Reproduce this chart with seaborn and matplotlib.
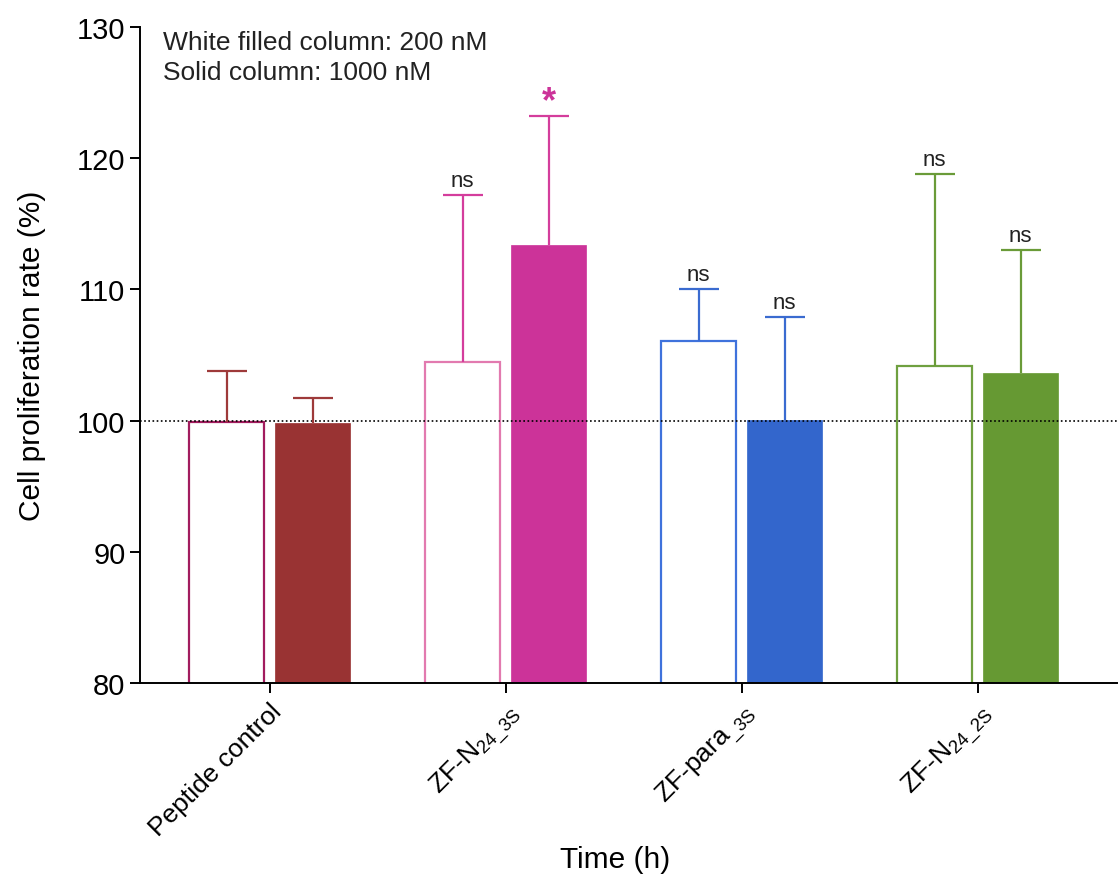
import numpy as np
import pandas as pd
import seaborn as sns
from matplotlib import pyplot as plt

# data
groups = ["Peptide control", "ZF-N24_3S", "ZF-para_3S", "ZF-N24_2S"]
group_labels = ["Peptide control", r"ZF-N$_\mathregular{24\_3S}$",
                r"ZF-para$_\mathregular{\_3S}$", r"ZF-N$_\mathregular{24\_2S}$"]
doses = ["200 nM", "1000 nM"]
mean_200 = [99.9, 104.5, 106.1, 104.2]
mean_1000 = [99.8, 113.4, 100.05, 103.6]
err_200 = [3.9, 12.7, 3.9, 14.6]
err_1000 = [1.9, 9.8, 7.85, 9.4]
sig_200 = ["", "ns", "ns", "ns"]
sig_1000 = ["", "*", "ns", "ns"]

edge_white = ["#a21c5e", "#e27aaf", "#3f72dc", "#6fa040"]
solid_col = ["#993333", "#cc3399", "#3366cc", "#669933"]
err_col = ["#9e3a3a", "#d43d9c", "#3a6bd0", "#6a9b38"]

df = pd.DataFrame({
    "group": groups * 2,
    "dose": [doses[0]] * 4 + [doses[1]] * 4,
    "value": mean_200 + mean_1000,
})

sns.set_style("ticks")
plt.rcParams["font.family"] = ["Liberation Sans", "DejaVu Sans"]
plt.rcParams["mathtext.fontset"] = "custom"
plt.rcParams["mathtext.rm"] = "Liberation Sans"
plt.rcParams["text.color"] = "black"
plt.rcParams["axes.labelcolor"] = "black"
plt.rcParams["xtick.color"] = "black"
plt.rcParams["ytick.color"] = "black"

fig = plt.figure(figsize=(11.19, 8.79), dpi=100)
ax = fig.add_axes([0.1251, 0.2218, 0.8729, 0.7463])

sns.barplot(data=df, x="group", y="value", hue="dose", order=groups,
            hue_order=doses, width=0.73, gap=0.13, errorbar=None,
            legend=False, ax=ax)

bars = sorted(ax.patches, key=lambda p: p.get_x())
for i, p in enumerate(bars):
    g = i // 2
    if i % 2 == 0:
        p.set_facecolor("white")
        p.set_edgecolor(edge_white[g])
        p.set_linewidth(1.6)
    else:
        p.set_facecolor(solid_col[g])
        p.set_edgecolor(solid_col[g])
        p.set_linewidth(0.5)

means = [m for pair in zip(mean_200, mean_1000) for m in pair]
errs = [e for pair in zip(err_200, err_1000) for e in pair]
sigs = [s for pair in zip(sig_200, sig_1000) for s in pair]

for i, p in enumerate(bars):
    g = i // 2
    xc = p.get_x() + p.get_width() / 2
    _, caps, _ = ax.errorbar([xc], [means[i]], yerr=[[0], [errs[i]]],
                             fmt="none", ecolor=err_col[g], elinewidth=1.6,
                             capsize=14.5, capthick=1.6, zorder=3)
    caps[0].set_visible(False)
    top = means[i] + errs[i]
    if sigs[i] == "ns":
        ax.annotate("ns", (xc, top), xytext=(0, 3), textcoords="offset points",
                    ha="center", va="bottom", fontsize=16, color="#222222")
    elif sigs[i] == "*":
        ax.annotate("*", (xc, top), xytext=(0, -2), textcoords="offset points",
                    ha="center", va="bottom", fontsize=26, fontweight="bold",
                    color=solid_col[g])

ax.axhline(100, color="black", linestyle=(0, (1, 1.5)), linewidth=1.2, zorder=1)

ax.set_ylim(80, 130)
ax.set_yticks([80, 90, 100, 110, 120, 130])
ax.set_xlim(-0.55, 3.59)
ax.set_xticks(range(4))
ax.set_xticklabels(group_labels, rotation=45, ha="right",
                   rotation_mode="anchor", fontsize=19)
ax.tick_params(axis="y", labelsize=21, length=7, width=1.4)
ax.tick_params(axis="x", length=7, width=1.4, pad=4)

ax.set_ylabel("Cell proliferation rate (%)", fontsize=21.5, labelpad=22)
ax.set_xlabel("Time (h)", fontsize=21.5)
ax.xaxis.set_label_coords(0.486, -0.247)

for s in ["left", "bottom"]:
    ax.spines[s].set_linewidth(1.4)
    ax.spines[s].set_color("black")
sns.despine(ax=ax)

ax.text(0.024, 0.995, "White filled column: 200 nM\nSolid column: 1000 nM",
        transform=ax.transAxes, ha="left", va="top", fontsize=19,
        color="#222222", linespacing=1.3)

plt.savefig("out.png", dpi=100)
